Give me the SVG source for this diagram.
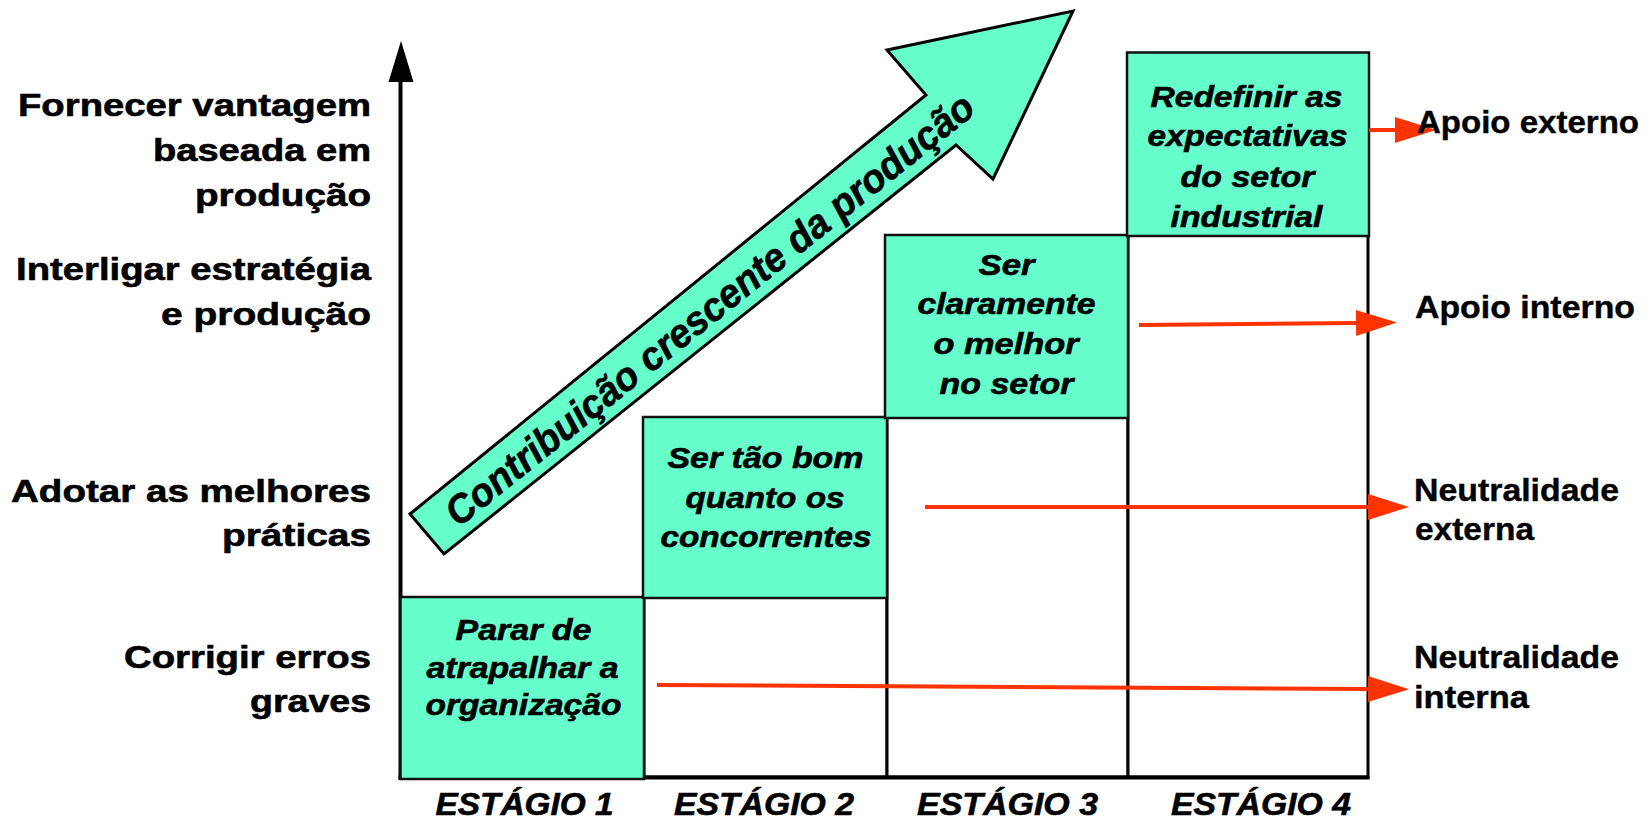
<svg xmlns="http://www.w3.org/2000/svg" width="1652" height="820" viewBox="0 0 1652 820">
  <style>
    .lbl { font-family: "Liberation Sans", Arial, sans-serif; font-weight: bold; font-size: 31px; fill: #000; stroke: #000; stroke-width: 0.6; }
    .rlbl { font-family: "Liberation Sans", Arial, sans-serif; font-weight: bold; font-size: 32px; fill: #000; stroke: #000; stroke-width: 0.4; }
    .box { fill: #66FFCC; stroke: #111; stroke-width: 2.5; }
    .cell { fill: #fff; stroke: #000; stroke-width: 3; }
    .bt { font-family: "Liberation Sans", Arial, sans-serif; font-weight: bold; font-style: italic; font-size: 30px; fill: #000; text-anchor: middle; stroke: #000; stroke-width: 0.6; }
    .st { font-family: "Liberation Sans", Arial, sans-serif; font-weight: bold; font-style: italic; font-size: 32px; fill: #000; text-anchor: middle; stroke: #000; stroke-width: 0.6; }
    .red { stroke: #FF3300; stroke-width: 4; fill: none; marker-end: url(#redhead); }
  </style>
  <defs>
    <marker id="redhead" markerUnits="userSpaceOnUse" markerWidth="42" markerHeight="26" refX="0" refY="13" orient="auto" overflow="visible">
      <path d="M0,0 L41,13 L0,26 Z" fill="#FF3300"/>
    </marker>
  </defs>
  <rect width="1652" height="820" fill="#fff"/>

  <!-- grid cells -->
  <g id="grid">
    <rect class="cell" x="644" y="597" width="243" height="180"/>
    <rect class="cell" x="887" y="417" width="241" height="360"/>
    <rect class="cell" x="1128" y="235" width="240" height="542"/>
  </g>

  <!-- axes -->
  <g id="axes">
    <line x1="398.5" y1="777.5" x2="1369.5" y2="777.5" stroke="#000" stroke-width="4"/>
    <line x1="400.5" y1="780" x2="400.5" y2="80" stroke="#000" stroke-width="4"/>
    <polygon points="401,41 388.5,82 413.5,82" fill="#000"/>
  </g>

  <!-- big diagonal arrow -->
  <g id="growth-arrow">
    <polygon points="410,514 926,95 887,50 1073,11 993,179 956,145 444,554" fill="#66FFCC" stroke="#000" stroke-width="3" stroke-linejoin="miter"/>
    <text class="bt" style="font-size:40px" transform="translate(718,320) rotate(-38.7)" textLength="665" lengthAdjust="spacingAndGlyphs">Contribuição crescente da produção</text>
  </g>

  <!-- stage boxes -->
  <g id="stage1-box">
    <rect class="box" x="400.5" y="597" width="243.5" height="182"/>
    <text class="bt" x="523.5" y="640" textLength="136" lengthAdjust="spacingAndGlyphs">Parar de</text>
    <text class="bt" x="522.5" y="678" textLength="192" lengthAdjust="spacingAndGlyphs">atrapalhar a</text>
    <text class="bt" x="523.5" y="715" textLength="196" lengthAdjust="spacingAndGlyphs">organização</text>
  </g>
  <g id="stage2-box">
    <rect class="box" x="643" y="417" width="244" height="181"/>
    <text class="bt" x="765.5" y="468" textLength="196" lengthAdjust="spacingAndGlyphs">Ser tão bom</text>
    <text class="bt" x="765" y="508" textLength="159" lengthAdjust="spacingAndGlyphs">quanto os</text>
    <text class="bt" x="766" y="547" textLength="211" lengthAdjust="spacingAndGlyphs">concorrentes</text>
  </g>
  <g id="stage3-box">
    <rect class="box" x="885" y="235" width="243" height="183"/>
    <text class="bt" x="1006.5" y="275" textLength="56" lengthAdjust="spacingAndGlyphs">Ser</text>
    <text class="bt" x="1006.5" y="314" textLength="178" lengthAdjust="spacingAndGlyphs">claramente</text>
    <text class="bt" x="1006" y="354" textLength="145" lengthAdjust="spacingAndGlyphs">o melhor</text>
    <text class="bt" x="1006.5" y="394" textLength="134" lengthAdjust="spacingAndGlyphs">no setor</text>
  </g>
  <g id="stage4-box">
    <rect class="box" x="1127" y="52.5" width="242" height="183.5"/>
    <text class="bt" x="1246.5" y="106.5" textLength="192" lengthAdjust="spacingAndGlyphs">Redefinir as</text>
    <text class="bt" x="1247.5" y="146" textLength="200" lengthAdjust="spacingAndGlyphs">expectativas</text>
    <text class="bt" x="1247.5" y="186.5" textLength="134" lengthAdjust="spacingAndGlyphs">do setor</text>
    <text class="bt" x="1246.5" y="226.5" textLength="152" lengthAdjust="spacingAndGlyphs">industrial</text>
  </g>

  <!-- connectors -->
  <g id="connectors">
    <line class="red" x1="1369" y1="130" x2="1395" y2="130"/>
    <line class="red" x1="1139" y1="325" x2="1356" y2="323"/>
    <line class="red" x1="925" y1="507" x2="1368" y2="507"/>
    <line class="red" x1="657" y1="685" x2="1368" y2="689"/>
  </g>

  <!-- left axis labels -->
  <g id="level4-label" text-anchor="end">
    <text class="lbl" x="371" y="116" textLength="353" lengthAdjust="spacingAndGlyphs">Fornecer vantagem</text>
    <text class="lbl" x="371" y="161" textLength="218" lengthAdjust="spacingAndGlyphs">baseada em</text>
    <text class="lbl" x="371" y="206" textLength="176" lengthAdjust="spacingAndGlyphs">produção</text>
  </g>
  <g id="level3-label" text-anchor="end">
    <text class="lbl" x="371" y="280" textLength="355" lengthAdjust="spacingAndGlyphs">Interligar estratégia</text>
    <text class="lbl" x="371" y="325" textLength="210" lengthAdjust="spacingAndGlyphs">e produção</text>
  </g>
  <g id="level2-label" text-anchor="end">
    <text class="lbl" x="371" y="502" textLength="360" lengthAdjust="spacingAndGlyphs">Adotar as melhores</text>
    <text class="lbl" x="371" y="546" textLength="149" lengthAdjust="spacingAndGlyphs">práticas</text>
  </g>
  <g id="level1-label" text-anchor="end">
    <text class="lbl" x="371" y="668" textLength="247" lengthAdjust="spacingAndGlyphs">Corrigir erros</text>
    <text class="lbl" x="371" y="712" textLength="121" lengthAdjust="spacingAndGlyphs">graves</text>
  </g>

  <!-- right labels -->
  <g id="apoio-externo"><text class="rlbl" x="1417" y="133" textLength="222" lengthAdjust="spacingAndGlyphs">Apoio externo</text></g>
  <g id="apoio-interno"><text class="rlbl" x="1415" y="318" textLength="220" lengthAdjust="spacingAndGlyphs">Apoio interno</text></g>
  <g id="neutralidade-externa">
    <text class="rlbl" x="1414" y="501" textLength="205" lengthAdjust="spacingAndGlyphs">Neutralidade</text>
    <text class="rlbl" x="1415" y="540" textLength="119" lengthAdjust="spacingAndGlyphs">externa</text>
  </g>
  <g id="neutralidade-interna">
    <text class="rlbl" x="1414" y="668" textLength="205" lengthAdjust="spacingAndGlyphs">Neutralidade</text>
    <text class="rlbl" x="1414" y="708" textLength="115" lengthAdjust="spacingAndGlyphs">interna</text>
  </g>

  <!-- stage labels -->
  <g id="stage-labels">
    <text class="st" x="524.5" y="815" textLength="178" lengthAdjust="spacingAndGlyphs">ESTÁGIO 1</text>
    <text class="st" x="764" y="815" textLength="180" lengthAdjust="spacingAndGlyphs">ESTÁGIO 2</text>
    <text class="st" x="1007.5" y="815" textLength="181" lengthAdjust="spacingAndGlyphs">ESTÁGIO 3</text>
    <text class="st" x="1261" y="815" textLength="180" lengthAdjust="spacingAndGlyphs">ESTÁGIO 4</text>
  </g>
</svg>
